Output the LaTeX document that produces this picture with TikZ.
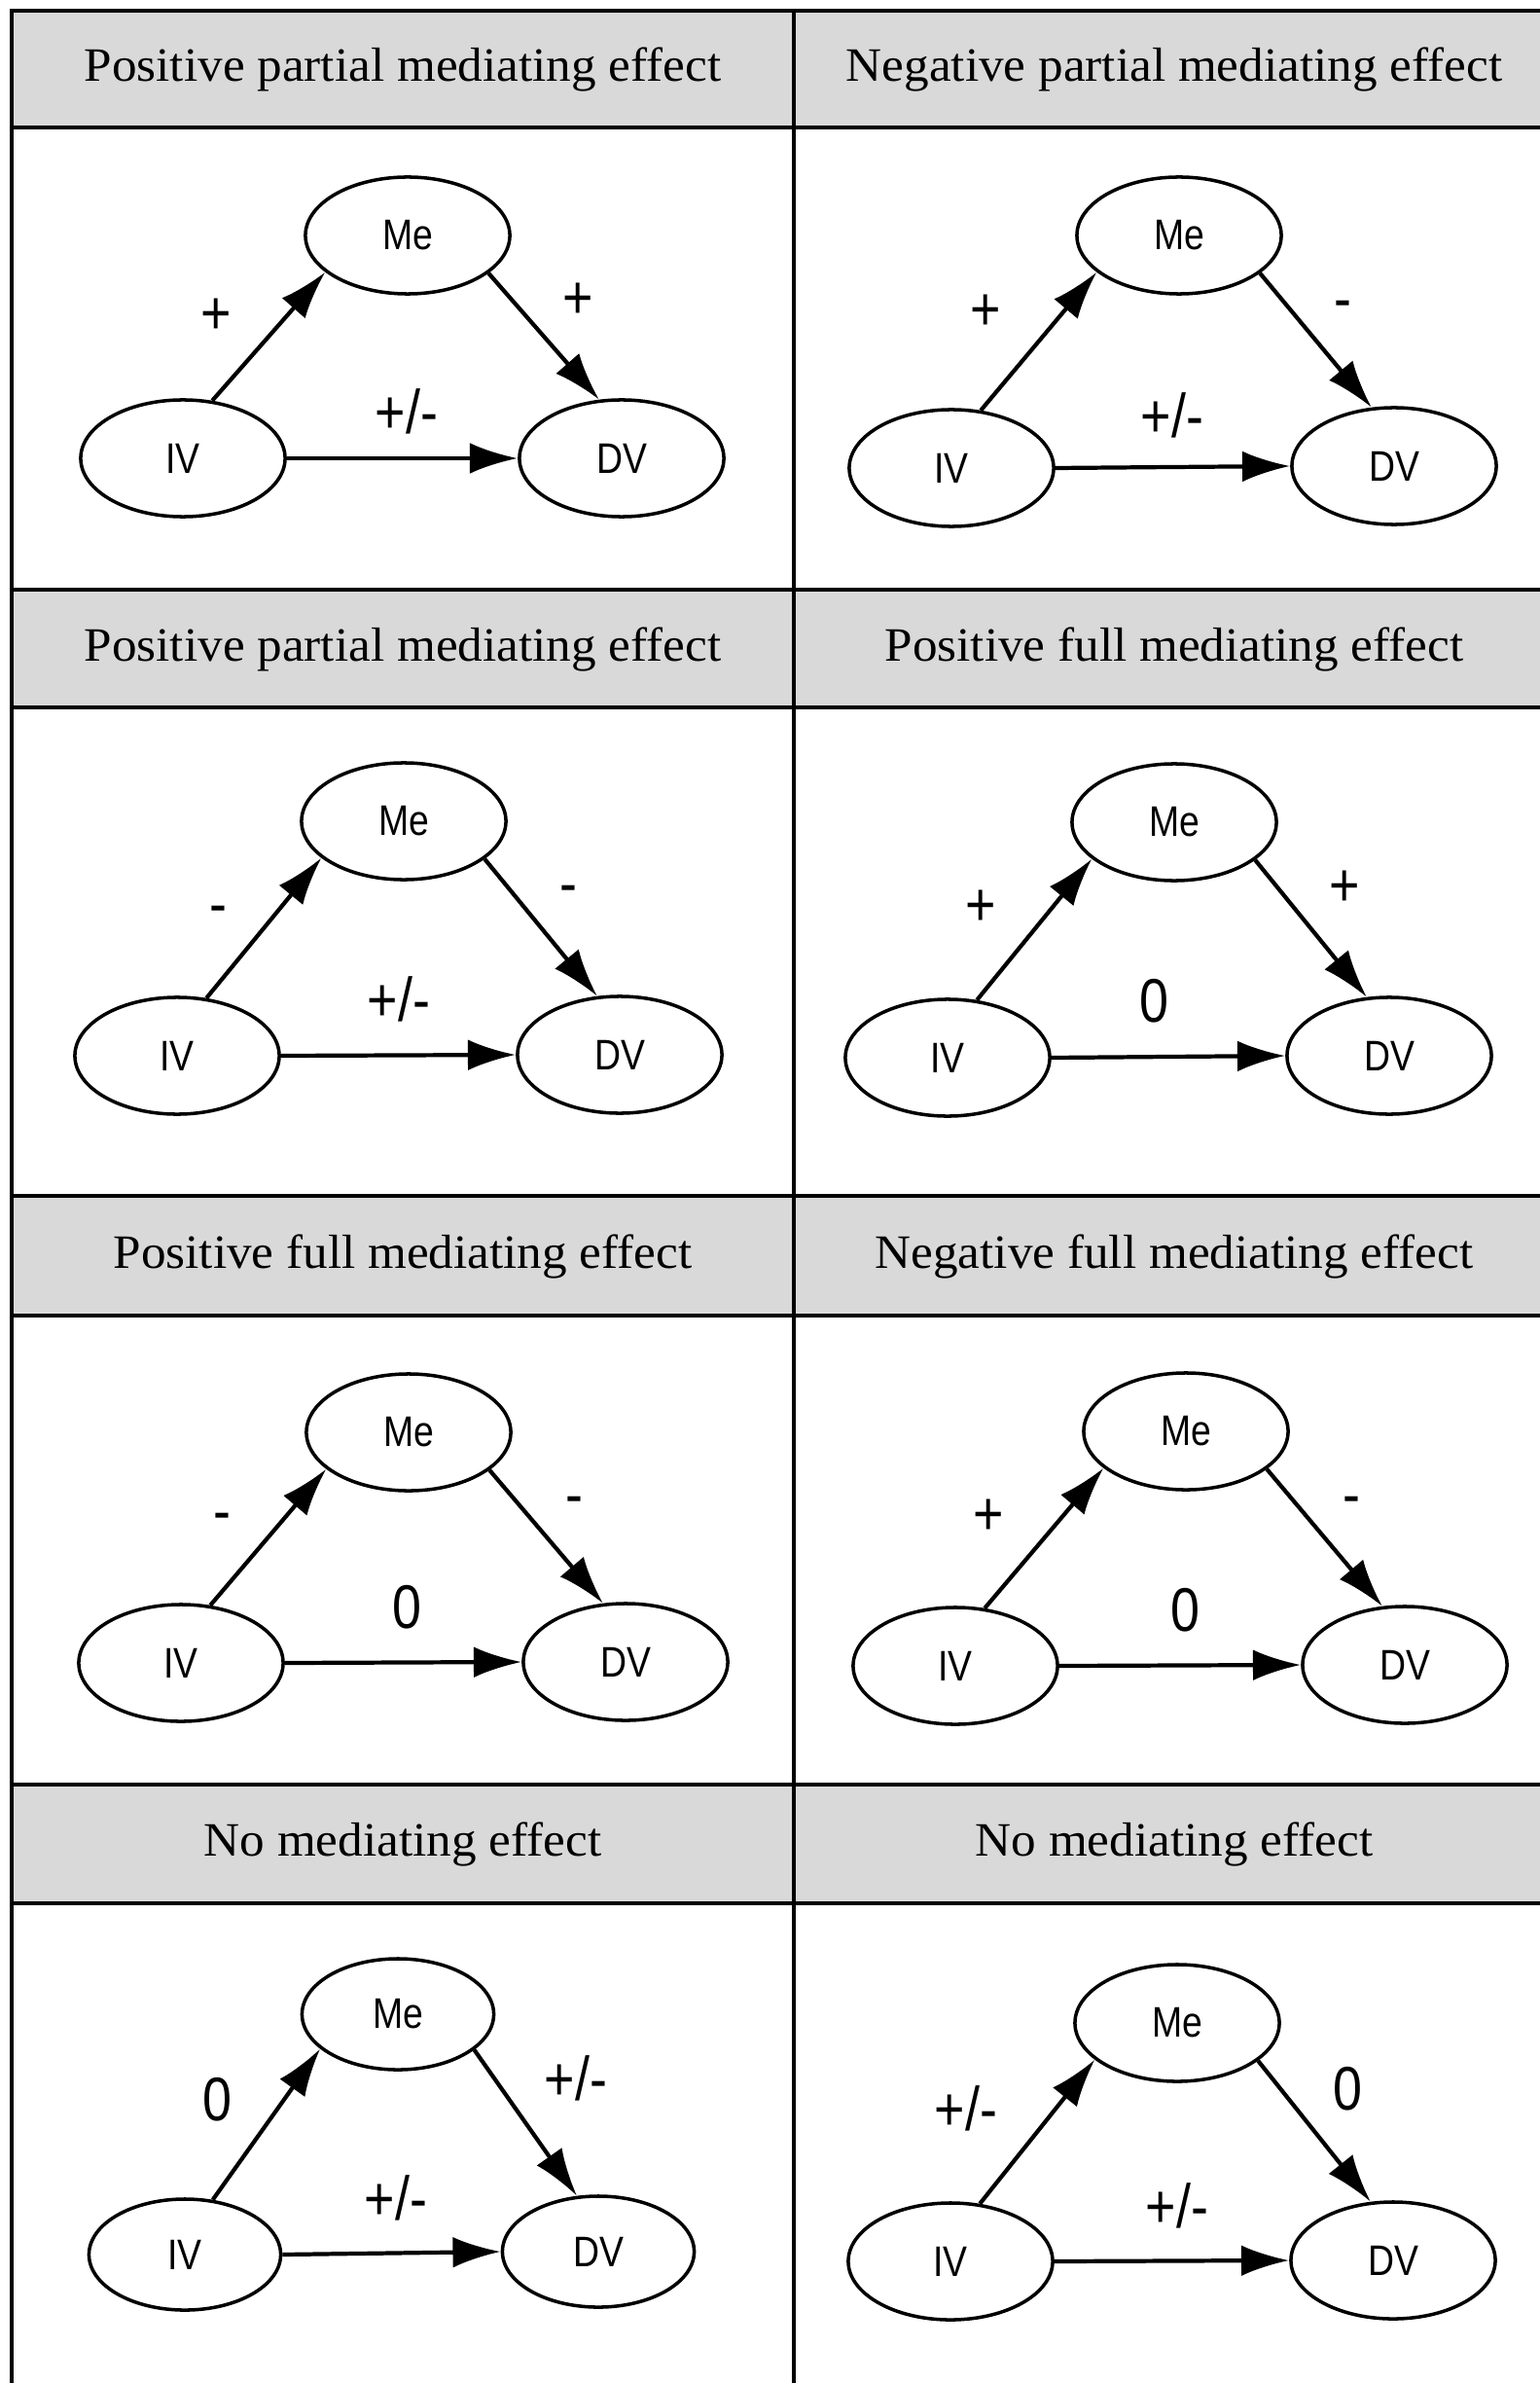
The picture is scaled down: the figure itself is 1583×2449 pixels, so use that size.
\documentclass[tikz,border=0pt]{standalone}
\usepackage{fontspec}
\usetikzlibrary{arrows.meta,shapes.geometric}
\newfontfamily\headfont{Liberation Serif}[FakeStretch=1.04]
\newfontfamily\narrowsans{Liberation Sans}[FakeStretch=0.85]
\definecolor{headgray}{HTML}{D9D9D9}

% #1 extra options, #2 name, #3 IV, #4 Me, #5 DV
\newcommand{\mediation}[5][]{%
	\node[var,#1] (#2iv) at #3 {IV};
	\node[var,#1] (#2me) at #4 {Me};
	\node[var,#1] (#2dv) at #5 {DV};
	\draw[link] (#2iv.63) -- (#2me.204);
	\draw[link] (#2me.-25) -- (#2dv.111);
	\draw[link] (#2iv.east) -- (#2dv.west);}

\begin{document}
\begin{tikzpicture}[x=0.01cm,y=-0.01cm,
		band/.style={draw,line width=0.9pt,fill=headgray},
		rule/.style={line width=0.9pt},
		head/.style={font=\headfont\fontsize{14}{16}\selectfont},
		var/.style={draw,ellipse,line width=1pt,minimum width=2.1cm,minimum height=1.2cm,inner sep=0pt,font=\narrowsans\fontsize{12.5}{14}\selectfont},
		sign/.style={font=\narrowsans\fontsize{18}{20}\selectfont,text height=13pt,text depth=0.5pt},
		link/.style={line width=1.2pt,-{Latex[length=14pt,width=9pt]}}]
	\useasboundingbox (0,0) rectangle (1583,2449);
	\clip (0,0) rectangle (1583,2449);

	% таблица
	\draw[band] (12,11) rectangle (1600,131);
	\draw[band] (12,606) rectangle (1600,727);
	\draw[band] (12,1229) rectangle (1600,1352);
	\draw[band] (12,1834) rectangle (1600,1956);
	\draw[rule] (12,11) -- (12,2460);
	\draw[rule] (816,11) -- (816,2460);

	% заголовки
	\node[head] (h11) at (414,71) {Positive partial mediating effect};
	\node[head] (h12) at (1207,71) {Negative partial mediating effect};
	\node[head] (h21) at (414,667) {Positive partial mediating effect};
	\node[head] (h22) at (1207,667) {Positive full mediating effect};
	\node[head] (h31) at (414,1291) {Positive full mediating effect};
	\node[head] (h32) at (1207,1291) {Negative full mediating effect};
	\node[head] (h41) at (414,1895) {No mediating effect};
	\node[head] (h42) at (1207,1895) {No mediating effect};

	% схемы
	\mediation{p}{(188,471)}{(419,242)}{(639,471)}
	\mediation{q}{(978,481)}{(1212,242)}{(1433,479)}
	\mediation{r}{(182,1085)}{(415,844)}{(637,1084)}
	\mediation{s}{(974,1087)}{(1207,845)}{(1428,1085)}
	\mediation{t}{(186,1709)}{(420,1472)}{(643,1708)}
	\mediation{u}{(982,1712)}{(1219,1471)}{(1444,1711)}
	\mediation[minimum width=1.97cm,minimum height=1.14cm]{v}{(190,2317)}{(409,2070)}{(615,2314)}
	\mediation{w}{(977,2324)}{(1210,2079)}{(1432,2323)}

	% подписи
	\path (222,322) node[sign] (pa) {+} (594,306) node[sign] (pb) {+} (418,424) node[sign] (pc) {+/-};
	\path (1013,318) node[sign] (qa) {+} (1380,307) node[sign] (qb) {-} (1205,428) node[sign] (qc) {+/-};
	\path (224,929) node[sign] (ra) {-} (584,908) node[sign] (rb) {-} (410,1028) node[sign] (rc) {+/-};
	\path (1008,930) node[sign] (sa) {+} (1382,910) node[sign] (sb) {+} (1186,1029) node[sign] (sc) {0};
	\path (228,1553) node[sign] (ta) {-} (590,1536) node[sign] (tb) {-} (418,1652) node[sign] (tc) {0};
	\path (1016,1556) node[sign] (ua) {+} (1389,1536) node[sign] (ub) {-} (1218,1655) node[sign] (uc) {0};
	\path (223,2157) node[sign] (va) {0} (592,2136) node[sign] (vb) {+/-} (407,2259) node[sign] (vc) {+/-};
	\path (993,2167) node[sign] (wa) {+/-} (1385,2146) node[sign] (wb) {0} (1210,2267) node[sign] (wc) {+/-};
\end{tikzpicture}
\end{document}
